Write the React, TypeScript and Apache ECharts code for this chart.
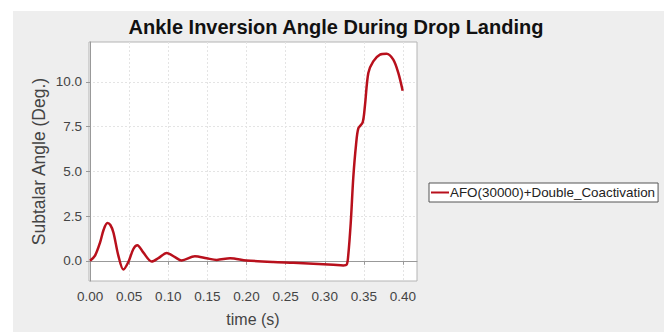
import React, { useEffect, useRef } from "react";
import * as echarts from "echarts";

const titleText = "Ankle Inversion Angle During Drop Landing";
const seriesName = "AFO(30000)+Double_Coactivation";
const xTicks = [0, 0.05, 0.1, 0.15, 0.2, 0.25, 0.3, 0.35, 0.4];
const yTicks = [0, 2.5, 5, 7.5, 10];
const timeS = [
  0, 0.0064, 0.0128, 0.0175, 0.0222, 0.026, 0.03, 0.0362, 0.0426, 0.049, 0.0554, 0.0605,
  0.068, 0.0788, 0.0874, 0.098, 0.1086, 0.117, 0.134, 0.149, 0.162, 0.179, 0.2, 0.234,
  0.26, 0.2854, 0.311, 0.3237, 0.328, 0.33, 0.3332, 0.3365, 0.34, 0.343, 0.3485, 0.3514,
  0.3557, 0.362, 0.3706, 0.379, 0.3876, 0.394, 0.3996,
];
const angleDeg = [
  0.0, 0.29, 1.02, 1.75, 2.11, 2.0, 1.57, 0.29, -0.49, -0.07, 0.66, 0.87,
  0.47, -0.04, 0.15, 0.44, 0.2, 0.02, 0.25, 0.14, 0.05, 0.14, 0.02, -0.07,
  -0.11, -0.16, -0.22, -0.26, -0.22, 0.29, 2.11, 4.67, 6.5, 7.41, 7.74, 8.69,
  10.5, 11.15, 11.52, 11.57, 11.24, 10.5, 9.5,
];

export default function App() {
  const ref = useRef<HTMLDivElement>(null);
  useEffect(() => {
    if (!ref.current) return;
    const chart = echarts.init(ref.current, null, { renderer: "svg" });
    const font = "Liberation Sans, Arial, sans-serif";
    chart.setOption({
      animation: false,
      textStyle: { fontFamily: font },
      graphic: [
        {
          type: "rect",
          silent: true,
          z: -10,
          shape: { x: 13, y: 11, width: 664, height: 332 },
          style: { fill: "#eeeeee" },
        },
      ],
      title: {
        text: titleText,
        left: 331,
        textAlign: "center",
        top: 12,
        textStyle: { fontFamily: font, fontWeight: "bold", fontSize: 20, color: "#111" },
      },
      legend: {
        left: 429,
        top: 183,
        orient: "vertical",
        backgroundColor: "#ffffff",
        borderColor: "#555555",
        borderWidth: 1,
        borderRadius: 0,
        padding: [3, 3, 3, 2],
        itemWidth: 18,
        itemHeight: 2,
        icon: "rect",
        textStyle: { fontFamily: font, fontSize: 13.4, color: "#222", padding: [0, 0, 0, -4] },
        data: [{ name: seriesName, icon: "rect" }],
      },
      grid: {
        left: 89,
        top: 42,
        right: 247,
        bottom: 46,
        show: true,
        backgroundColor: "#ffffff",
        borderColor: "#b4b4b4",
        borderWidth: 1,
        containLabel: false,
      },
      xAxis: {
        type: "value",
        min: -0.0013,
        max: 0.4179,
        name: "time (s)",
        nameLocation: "middle",
        nameGap: 30,
        nameTextStyle: { fontFamily: font, fontSize: 16, color: "#444" },
        axisLine: { show: true, lineStyle: { color: "#999" } },
        axisTick: { show: true, length: 4, lineStyle: { color: "#999" }, customValues: xTicks },
        axisLabel: {
          customValues: xTicks,
          fontSize: 13.5,
          color: "#444",
          margin: 8,
          fontFamily: font,
          formatter: (v: number) => v.toFixed(2),
        },
        splitLine: { show: true, lineStyle: { color: "#e4e4e4", type: [2, 2] } },
      },
      yAxis: {
        type: "value",
        min: -1.13,
        max: 12.23,
        name: "Subtalar Angle (Deg.)",
        nameLocation: "middle",
        nameGap: 41,
        nameTextStyle: { fontFamily: font, fontSize: 17.5, color: "#444" },
        axisLine: { show: true, lineStyle: { color: "#999" } },
        axisTick: { show: true, length: 4, lineStyle: { color: "#999" }, customValues: yTicks },
        axisLabel: {
          customValues: yTicks,
          fontSize: 13.5,
          color: "#444",
          margin: 7,
          fontFamily: font,
          formatter: (v: number) => v.toFixed(1),
        },
        splitLine: { show: true, lineStyle: { color: "#e4e4e4", type: [2, 2] } },
      },
      series: [
        {
          name: seriesName,
          type: "line",
          data: timeS.map((t, i) => [t, angleDeg[i]]),
          smooth: 0.3,
          showSymbol: false,
          symbol: "none",
          lineStyle: { color: "#b8101c", width: 2.5 },
          itemStyle: { color: "#b8101c" },
        },
      ],
    });
    return () => chart.dispose();
  }, []);
  return (
    <div
      ref={ref}
      style={{ position: "fixed", left: 0, top: 0, width: 664, height: 332, background: "#fff" }}
    />
  );
}
